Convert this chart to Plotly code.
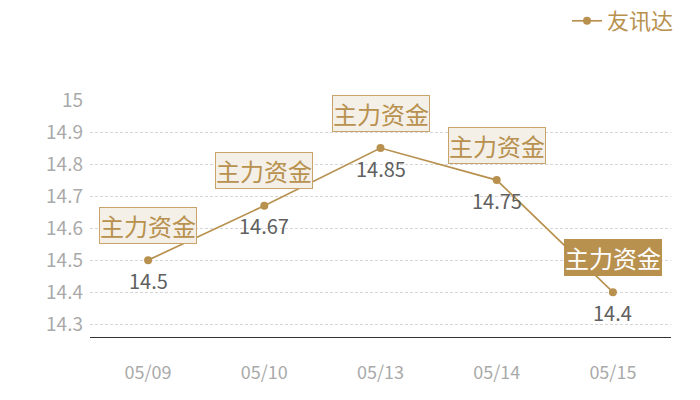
import plotly.graph_objects as go

categories = ["05/09", "05/10", "05/13", "05/14", "05/15"]
values = [14.5, 14.67, 14.85, 14.75, 14.4]
value_labels = ["14.5", "14.67", "14.85", "14.75", "14.4"]
tag_text = "主力资金"
series_name = "友讯达"
y_ticks = [14.3, 14.4, 14.5, 14.6, 14.7, 14.8, 14.9, 15]

gold = "#b8914f"
font_family = "Noto Sans CJK SC, Noto Sans, sans-serif"

fig = go.Figure()
fig.add_trace(go.Scatter(
    x=categories, y=values, name=series_name,
    mode="lines+markers",
    line=dict(color=gold, width=1.7),
    marker=dict(color=gold, size=8),
))

for i, (c, v, lab) in enumerate(zip(categories, values, value_labels)):
    last = i == len(categories) - 1
    fig.add_annotation(
        x=c, y=v, xref="x", yref="y", text=tag_text, showarrow=False,
        yshift=35,
        font=dict(size=24, color="#ffffff" if last else gold, family=font_family),
        bgcolor=gold if last else "#f4efe7",
        bordercolor=gold if last else "#c9a46a",
        borderwidth=1, borderpad=0,
    )
    fig.add_annotation(
        x=c, y=v, xref="x", yref="y", text=lab, showarrow=False,
        yshift=-20,
        font=dict(size=20, color="#606060", family=font_family),
    )

# paper spans x 90..700 and y 0..337 px; plot area x 90..671, y 100..337
fig.update_layout(
    width=700, height=400,
    margin=dict(l=90, r=0, t=0, b=63),
    plot_bgcolor="rgba(0,0,0,0)", paper_bgcolor="white",
    font=dict(family=font_family),
    showlegend=True,
    legend=dict(x=589 / 610, y=1.0, xanchor="right", yanchor="top",
                font=dict(size=22, color=gold, family=font_family),
                bgcolor="rgba(0,0,0,0)"),
    xaxis=dict(
        type="category", range=[-0.5, 4.5], showgrid=False,
        domain=[0, 581 / 610],
        showline=True, linecolor="#333333", linewidth=1,
        ticks="", tickfont=dict(size=18, color="#aaaaaa"),
        ticklabelstandoff=19, automargin=False,
    ),
    yaxis=dict(
        range=[14.26, 15.0], tickvals=y_ticks, domain=[0, 237 / 337],
        ticktext=[str(t) for t in y_ticks],
        showgrid=True, gridcolor="#d6d6d6", griddash="3px,2px", gridwidth=1,
        zeroline=False, showline=False,
        tickfont=dict(size=19, color="#aaaaaa"), ticklabelstandoff=6,
        automargin=False,
    ),
)

fig.write_html("out.html", config={"displayModeBar": False},
               post_script="document.body.style.margin='0';")
